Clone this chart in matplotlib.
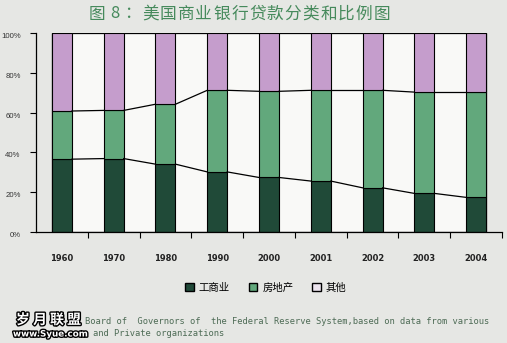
import matplotlib.pyplot as plt
import matplotlib.patheffects as pe
from matplotlib.patches import Rectangle, Patch
import numpy as np

plt.rcParams['font.family'] = ['Noto Sans CJK SC', 'DejaVu Sans']

# data (percent of total loans)
years = ['1960', '1970', '1980', '1990', '2000', '2001', '2002', '2003', '2004']
industry = [36.6, 36.9, 34.1, 30.2, 27.4, 25.6, 22.2, 19.4, 17.4]       # 工商业
real_estate = [24.2, 24.2, 30.1, 41.0, 43.3, 45.6, 49.0, 50.9, 52.9]    # 房地产
other = [100 - a - b for a, b in zip(industry, real_estate)]            # 其他
legend_labels = ['工商业', '房地产', '其他']
colors = ['#204a38', '#62a87c', '#c59dcc']
legend_colors = ['#204a38', '#62a87c', '#ece4ee']
title = '图8：美国商业银行贷款分类和比例图'

fig = plt.figure(figsize=(5.07, 3.43), dpi=100, facecolor='#e6e7e4')
W, H = 507, 343
ax = fig.add_axes([36 / W, 1 - 232 / H, 466 / W, 199 / H])
ax.set_facecolor('none')

x = np.arange(len(years))
w = 0.386
ax.set_xlim(-0.5, len(years) - 0.5)
ax.set_ylim(0, 100)

# white plotting frame
ax.add_patch(Rectangle((x[0] - w / 2, 0), x[-1] - x[0] + w, 100,
                       facecolor='#f9f9f7', edgecolor='black', lw=0.9, zorder=1))

ind = np.array(industry)
re_ = np.array(real_estate)
oth = np.array(other)
ax.bar(x, ind, w, color=colors[0], edgecolor='black', lw=0.8, zorder=2)
ax.bar(x, re_, w, bottom=ind, color=colors[1], edgecolor='black', lw=0.8, zorder=2)
ax.bar(x, oth, w, bottom=ind + re_, color=colors[2], edgecolor='black', lw=0.8, zorder=2)

# series lines between bars
for level in (ind, ind + re_):
    for i in range(len(x) - 1):
        ax.plot([x[i] + w / 2, x[i + 1] - w / 2], [level[i], level[i + 1]],
                color='black', lw=0.9, zorder=3)

for s in ('top', 'right'):
    ax.spines[s].set_visible(False)
ax.spines['left'].set_linewidth(0.9)
ax.spines['bottom'].set_linewidth(0.9)

ax.set_yticks(np.arange(0, 101, 20))
ax.set_yticklabels([f'{v}%' for v in range(0, 101, 20)], fontsize=5.6, color='#333333',
                   family='Liberation Sans')
ax.tick_params(axis='y', direction='out', length=4, width=0.8, pad=7)
for lab in ax.get_yticklabels():
    lab.set_verticalalignment('top')

ax.set_xticks(x + 0.5)
ax.set_xticklabels([])
ax.tick_params(axis='x', which='major', direction='out', length=4, width=0.8)
ax.set_xticks(x, minor=True)
ax.set_xticklabels(years, minor=True, fontsize=6, fontweight='bold', color='#222222',
                   family='DejaVu Sans')
ax.tick_params(axis='x', which='minor', length=0, pad=16)

# spaced-out title, one character at a time
step = 17.8
for k, ch in enumerate(title):
    fig.text((97 + k * step) / W, 1 - 14 / H, ch, ha='center', va='center',
             fontsize=12, color='#468a5c')

handles = [Patch(facecolor=c, edgecolor='black', lw=1) for c in legend_colors]
fig.legend(handles, legend_labels, loc='center', bbox_to_anchor=(266 / W, 1 - 288 / H),
           ncol=3, frameon=False, fontsize=7.5, handlelength=0.8, handleheight=0.8,
           columnspacing=1.8, handletextpad=0.5)

fig.text(85 / W, 1 - 322 / H,
         'Board of  Governors of  the Federal Reserve System,based on data from various',
         fontsize=6.3, color='#4d6b55', family='DejaVu Sans Mono', va='center')
fig.text(93 / W, 1 - 334 / H, 'and Private organizations',
         fontsize=6.3, color='#4d6b55', family='DejaVu Sans Mono', va='center')

stroke = [pe.withStroke(linewidth=2, foreground='black')]
fig.text(16 / W, 1 - 320 / H, '岁 月 联 盟', fontsize=10, color='white', va='center',
         path_effects=stroke, fontweight='bold')
fig.text(13 / W, 1 - 334 / H, 'www.Syue.com', fontsize=6.3, color='white', va='center',
         path_effects=stroke, family='DejaVu Sans', fontweight='bold')

fig.savefig('out.png', dpi=100, facecolor=fig.get_facecolor())
